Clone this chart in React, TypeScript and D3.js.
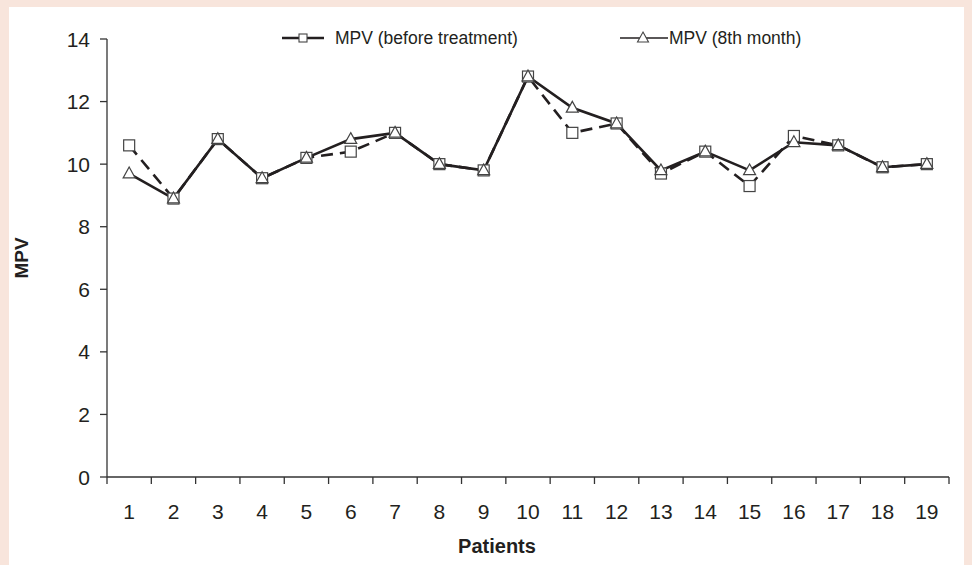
import React from "react";
import * as d3 from "d3";

const patients = ["1","2","3","4","5","6","7","8","9","10","11","12","13","14","15","16","17","18","19"];
const mpvBefore = [10.6, 8.9, 10.8, 9.55, 10.2, 10.4, 11.0, 10.0, 9.8, 12.8, 11.0, 11.3, 9.7, 10.4, 9.3, 10.9, 10.6, 9.9, 10.0];
const mpv8th = [9.7, 8.9, 10.8, 9.55, 10.2, 10.8, 11.0, 10.0, 9.8, 12.8, 11.8, 11.3, 9.8, 10.4, 9.8, 10.7, 10.6, 9.9, 10.0];
const yTicks = [0, 2, 4, 6, 8, 10, 12, 14];
const seriesNames = ["MPV (before treatment)", "MPV (8th month)"];

const W = 972, H = 565;
const FONT = "'Liberation Sans', Arial, Helvetica, sans-serif";
const INK = "#231f20";

export default function App() {
  const x = d3.scaleBand<string>().domain(patients).range([107, 949]).padding(0);
  const y = d3.scaleLinear().domain([0, 14]).range([477, 39]);
  const cx = (p: string) => (x(p) as number) + x.bandwidth() / 2;
  const line = d3.line<number>().x((_, i) => cx(patients[i])).y((v) => y(v));
  const tri = (px: number, py: number, s = 12) => {
    const h = s * 0.9;
    return `M${px},${py - h * 0.6} L${px + s / 2},${py + h * 0.4} L${px - s / 2},${py + h * 0.4} Z`;
  };
  const boundaries = [...patients.map((p) => x(p) as number), 949];

  return (
    <svg width={W} height={H} style={{ position: "absolute", left: 0, top: 0 }} fontFamily={FONT}>
      <rect x={0} y={0} width={W} height={H} fill="#f8e5dc" />
      <rect x={9} y={7} width={955} height={H - 7} fill="#ffffff" />

      {/* y axis */}
      <line x1={107} x2={107} y1={y(14)} y2={y(0)} stroke="#333" strokeWidth={1.3} />
      {yTicks.map((t) => (
        <g key={t}>
          <line x1={100} x2={107} y1={y(t)} y2={y(t)} stroke="#333" strokeWidth={1.3} />
          <text x={90} y={y(t) + 7.5} fontSize={21} textAnchor="end" fill={INK}>{t}</text>
        </g>
      ))}
      {/* x axis */}
      <line x1={107} x2={949} y1={y(0)} y2={y(0)} stroke="#333" strokeWidth={1.3} />
      {boundaries.map((b, i) => (
        <line key={i} x1={b} x2={b} y1={y(0)} y2={y(0) + 7} stroke="#333" strokeWidth={1.3} />
      ))}
      {patients.map((p) => (
        <text key={p} x={cx(p)} y={519} fontSize={21} textAnchor="middle" fill={INK}>{p}</text>
      ))}

      <text x={497} y={553} fontSize={20} fontWeight="bold" textAnchor="middle" fill={INK}>Patients</text>
      <text transform={`translate(28,258) rotate(-90)`} fontSize={19} fontWeight="bold" textAnchor="middle" fill={INK}>MPV</text>

      {/* series lines */}
      <path d={line(mpvBefore) as string} fill="none" stroke={INK} strokeWidth={2.6} strokeDasharray="12,7" />
      <path d={line(mpv8th) as string} fill="none" stroke={INK} strokeWidth={2.6} />

      {/* markers */}
      {mpvBefore.map((v, i) => (
        <rect key={"s" + i} x={cx(patients[i]) - 5.5} y={y(v) - 5.5} width={11} height={11} fill="#fff" stroke="#444" strokeWidth={1.2} />
      ))}
      {mpv8th.map((v, i) => (
        <path key={"t" + i} d={tri(cx(patients[i]), y(v))} fill="#fff" stroke="#444" strokeWidth={1.2} />
      ))}

      {/* legend */}
      <line x1={282} x2={324} y1={38} y2={38} stroke={INK} strokeWidth={2.6} />
      <rect x={299} y={34} width={8} height={8} fill="#fff" stroke="#444" strokeWidth={1.1} />
      <text x={335} y={44} fontSize={17.5} fill={INK}>{seriesNames[0]}</text>
      <line x1={620} x2={668} y1={38} y2={38} stroke={INK} strokeWidth={1.6} />
      <path d={tri(643, 38, 11)} fill="#fff" stroke="#444" strokeWidth={1.1} />
      <text x={669} y={44} fontSize={17.5} fill={INK}>{seriesNames[1]}</text>
    </svg>
  );
}
